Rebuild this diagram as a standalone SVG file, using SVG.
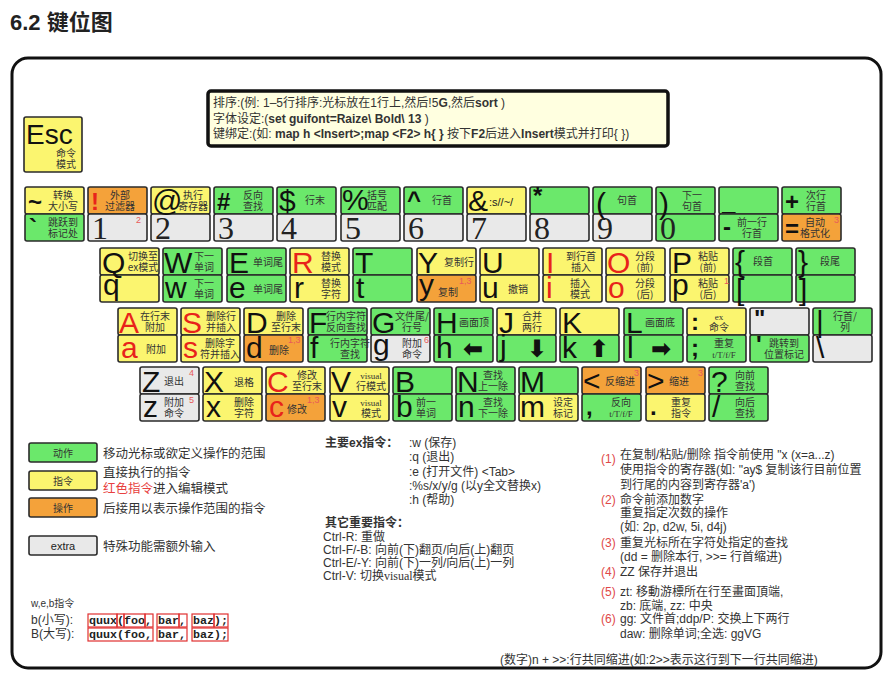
<svg xmlns="http://www.w3.org/2000/svg" width="884" height="675" viewBox="0 0 884 675">
<style>
text{font-family:"Liberation Sans","Noto Sans CJK SC",sans-serif}
.k{stroke:#2b2b2b;stroke-width:1.6}
.G{fill:#6be86b}.Y{fill:#fbf56f}.O{fill:#f4a23a}.X{fill:#e9e9e9}
.c{font-size:30px;fill:#111}
.n{font-family:"Liberation Serif",serif;font-size:32px;fill:#222}
.s{font-size:24px;font-weight:bold;fill:#111}
.d{font-family:"Noto Sans CJK SC",sans-serif;font-size:10px;fill:#333;text-anchor:middle}
.t{font-family:"Liberation Serif","Noto Sans CJK SC",serif;font-size:9px}
.u{font-size:9px;fill:#e85a5a}
.red{fill:#e8231b}
.ar{font-family:"DejaVu Sans",sans-serif;font-weight:bold;font-size:24px;fill:#111;text-anchor:middle}
.lg{font-family:"Noto Sans CJK SC",sans-serif;font-size:12.5px;fill:#333}
.nt{font-family:"Liberation Sans","Noto Sans CJK SC",sans-serif;font-size:12px;fill:#333}
.rn{font-family:"Liberation Sans",sans-serif;font-size:12px;fill:#e04848}
.mono{font-family:"Liberation Mono",monospace;font-weight:bold;font-size:11.7px;fill:#222}
.rb{fill:none;stroke:#e03030;stroke-width:1.2}
</style>
<rect width="884" height="675" fill="#fff"/>
<text x="10" y="30" font-size="22" font-weight="bold" fill="#222">6.2 键位图</text>
<rect x="12" y="58" width="869" height="610" rx="16" fill="#fff" stroke="#111" stroke-width="3"/>

<g id="info">
<rect x="208" y="91" width="460" height="55" rx="3" fill="#ffffe0" stroke="#111" stroke-width="3.5"/>
<text class="nt" x="213" y="107">排序:(例: 1–5行排序:光标放在1行上,然后!5<tspan font-weight="bold">G</tspan>,然后<tspan font-weight="bold">sort</tspan> )</text>
<text class="nt" x="213" y="123">字体设定:(<tspan font-weight="bold">set guifont=Raize\ Bold\ 13</tspan> )</text>
<text class="nt" x="213" y="138">键绑定:(如:  <tspan font-weight="bold">map h &lt;Insert&gt;;map &lt;F2&gt; h{ }</tspan> 按下<tspan font-weight="bold">F2</tspan>后进入<tspan font-weight="bold">Insert</tspan>模式并打印{ })</text>
</g>

<g id="key-esc">
<rect class="k Y" x="24" y="117" width="58" height="55" rx="2"/>
<text x="26" y="144" font-size="28" fill="#111">Esc</text>
<text class="d" x="66" y="157">命令<tspan x="66" dy="11">模式</tspan></text>
</g>

<!-- Row 1 -->
<g id="key-tilde">
<rect class="k Y" x="25" y="187" width="59" height="27" rx="2"/><rect class="k G" x="25" y="214" width="59" height="27" rx="2"/>
<text class="s" x="28" y="210">~</text><text class="d" x="63" y="199">转换<tspan x="63" dy="11">大小写</tspan></text>
<text class="s" x="29" y="236">`</text><text class="d" x="63" y="226">跳跃到<tspan x="63" dy="11">标记处</tspan></text>
</g>
<g id="key-1">
<rect class="k O" x="88" y="187" width="59" height="27" rx="2"/><rect class="k X" x="88" y="214" width="59" height="27" rx="2"/>
<text class="s red" x="91" y="210">!</text><text class="d" x="120" y="199">外部<tspan x="120" dy="11">过滤器</tspan></text>
<text class="n" x="92" y="239">1</text><text class="u" x="136" y="223">2</text>
</g>
<g id="key-2">
<rect class="k Y" x="151" y="187" width="59" height="27" rx="2"/><rect class="k X" x="151" y="214" width="59" height="27" rx="2"/>
<text class="c" x="152" y="211">@</text><text class="d" x="193" y="199">执行<tspan x="193" dy="11">寄存器</tspan></text>
<text class="n" x="155" y="239">2</text>
</g>
<g id="key-3">
<rect class="k G" x="214" y="187" width="59" height="27" rx="2"/><rect class="k X" x="214" y="214" width="59" height="27" rx="2"/>
<text class="s" x="217" y="210">#</text><text class="d" x="253" y="199">反向<tspan x="253" dy="11">查找</tspan></text>
<text class="n" x="218" y="239">3</text>
</g>
<g id="key-4">
<rect class="k G" x="277" y="187" width="59" height="27" rx="2"/><rect class="k X" x="277" y="214" width="59" height="27" rx="2"/>
<text class="c" x="279" y="211">$</text><text class="d" x="315" y="204">行末</text>
<text class="n" x="281" y="239">4</text>
</g>
<g id="key-5">
<rect class="k G" x="341" y="187" width="59" height="27" rx="2"/><rect class="k X" x="341" y="214" width="59" height="27" rx="2"/>
<text class="c" x="342" y="210">%</text><text class="d" x="377" y="199">括号<tspan x="377" dy="11">匹配</tspan></text>
<text class="n" x="345" y="239">5</text>
</g>
<g id="key-6">
<rect class="k G" x="404" y="187" width="59" height="27" rx="2"/><rect class="k X" x="404" y="214" width="59" height="27" rx="2"/>
<text class="s" x="407" y="208">^</text><text class="d" x="442" y="204">行首</text>
<text class="n" x="408" y="239">6</text>
</g>
<g id="key-7">
<rect class="k Y" x="467" y="187" width="59" height="27" rx="2"/><rect class="k X" x="467" y="214" width="59" height="27" rx="2"/>
<text class="c" x="468" y="211">&amp;</text><text x="489" y="206" font-size="11" fill="#222">:s//~/</text>
<text class="n" x="471" y="239">7</text>
</g>
<g id="key-8">
<rect class="k G" x="530" y="187" width="59" height="27" rx="2"/><rect class="k X" x="530" y="214" width="59" height="27" rx="2"/>
<text class="s" x="533" y="204" font-size="20">*</text>
<text class="n" x="534" y="239">8</text>
</g>
<g id="key-9">
<rect class="k G" x="593" y="187" width="59" height="27" rx="2"/><rect class="k X" x="593" y="214" width="59" height="27" rx="2"/>
<text class="c" x="596" y="214" font-size="34">(</text><text class="d" x="627" y="204">句首</text>
<text class="n" x="597" y="239">9</text>
</g>
<g id="key-0">
<rect class="k G" x="656" y="187" width="59" height="27" rx="2"/><rect class="k G" x="656" y="214" width="59" height="27" rx="2"/>
<text class="c" x="659" y="214" font-size="34">)</text><text class="d" x="692" y="199">下一<tspan x="692" dy="11">句首</tspan></text>
<text class="n" x="660" y="239">0</text>
</g>
<g id="key-minus">
<rect class="k G" x="719" y="187" width="59" height="27" rx="2"/><rect class="k G" x="719" y="214" width="59" height="27" rx="2"/>
<text class="s" x="722" y="210">_</text>
<text class="s" x="723" y="235">-</text><text class="d" x="752" y="226">前一行<tspan x="752" dy="11">行首</tspan></text>
</g>
<g id="key-equal">
<rect class="k G" x="782" y="187" width="59" height="27" rx="2"/><rect class="k O" x="782" y="214" width="59" height="27" rx="2"/>
<text class="s" x="785" y="210" font-size="26">+</text><text class="d" x="816" y="199">次行<tspan x="816" dy="11">行首</tspan></text>
<text class="s" x="785" y="237" font-size="26">=</text><text class="d" x="815" y="226">自动<tspan x="815" dy="11">格式化</tspan></text><text class="u" x="834" y="223">3</text>
</g>

<!-- Row 2 -->
<g id="key-q">
<rect class="k Y" x="100" y="248" width="59" height="27" rx="2"/><rect class="k Y" x="100" y="275" width="59" height="27" rx="2"/>
<text class="c" x="102" y="273">Q</text><text class="d" x="143" y="260">切换至<tspan x="143" dy="11">ex模式</tspan></text>
<text class="c" x="103" y="295">q</text>
</g>
<g id="key-w">
<rect class="k G" x="163" y="248" width="59" height="27" rx="2"/><rect class="k G" x="163" y="275" width="59" height="27" rx="2"/>
<text class="c" x="164" y="273">W</text><text class="d" x="204" y="260">下一<tspan x="204" dy="11">单词</tspan></text>
<text class="c" x="165" y="298">w</text><text class="d" x="204" y="287">下一<tspan x="204" dy="11">单词</tspan></text>
</g>
<g id="key-e">
<rect class="k G" x="227" y="248" width="59" height="27" rx="2"/><rect class="k G" x="227" y="275" width="59" height="27" rx="2"/>
<text class="c" x="229" y="273">E</text><text class="d" x="268" y="266">单词尾</text>
<text class="c" x="229" y="298">e</text><text class="d" x="268" y="293">单词尾</text>
</g>
<g id="key-r">
<rect class="k Y" x="290" y="248" width="59" height="27" rx="2"/><rect class="k Y" x="290" y="275" width="59" height="27" rx="2"/>
<text class="c red" x="292" y="273">R</text><text class="d" x="331" y="260">替换<tspan x="331" dy="11">模式</tspan></text>
<text class="c" x="294" y="298">r</text><text class="d" x="331" y="287">替换<tspan x="331" dy="11">字符</tspan></text>
</g>
<g id="key-t">
<rect class="k G" x="353" y="248" width="59" height="27" rx="2"/><rect class="k G" x="353" y="275" width="59" height="27" rx="2"/>
<text class="c" x="355" y="273">T</text>
<text class="c" x="356" y="298">t</text>
</g>
<g id="key-y">
<rect class="k Y" x="417" y="248" width="59" height="27" rx="2"/><rect class="k O" x="417" y="275" width="59" height="27" rx="2"/>
<text class="c" x="418" y="273">Y</text><text class="d" x="459" y="266">复制行</text>
<text class="c" x="419" y="295">y</text><text class="d" x="448" y="296">复制</text><text class="u" x="459" y="284">1,3</text>
</g>
<g id="key-u">
<rect class="k Y" x="480" y="248" width="59" height="27" rx="2"/><rect class="k Y" x="480" y="275" width="59" height="27" rx="2"/>
<text class="c" x="482" y="273">U</text>
<text class="c" x="482" y="298">u</text><text class="d" x="518" y="293">撤销</text>
</g>
<g id="key-i">
<rect class="k Y" x="543" y="248" width="59" height="27" rx="2"/><rect class="k Y" x="543" y="275" width="59" height="27" rx="2"/>
<text class="c red" x="546" y="273">I</text><text class="d" x="581" y="260">到行首<tspan x="581" dy="11">插入</tspan></text>
<text class="c red" x="546" y="298">i</text><text class="d" x="580" y="287">插入<tspan x="580" dy="11">模式</tspan></text>
</g>
<g id="key-o">
<rect class="k Y" x="606" y="248" width="59" height="27" rx="2"/><rect class="k Y" x="606" y="275" width="59" height="27" rx="2"/>
<text class="c red" x="607" y="273">O</text><text class="d" x="645" y="260">分段<tspan x="645" dy="11">(前)</tspan></text>
<text class="c red" x="608" y="298">o</text><text class="d" x="645" y="287">分段<tspan x="645" dy="11">(后)</tspan></text>
</g>
<g id="key-p">
<rect class="k Y" x="670" y="248" width="59" height="27" rx="2"/><rect class="k Y" x="670" y="275" width="59" height="27" rx="2"/>
<text class="c" x="672" y="273">P</text><text class="d" x="708" y="260">粘贴<tspan x="708" dy="11">(前)</tspan></text>
<text class="c" x="672" y="295">p</text><text class="d" x="708" y="287">粘贴<tspan x="708" dy="11">(后)</tspan></text><text class="u" x="724" y="284">1</text>
</g>
<g id="key-lbrace">
<rect class="k G" x="733" y="248" width="59" height="27" rx="2"/><rect class="k G" x="733" y="275" width="59" height="27" rx="2"/>
<text class="c" x="735" y="272">{</text><text class="d" x="763" y="265">段首</text>
<text class="c" x="736" y="300">[</text>
</g>
<g id="key-rbrace">
<rect class="k G" x="796" y="248" width="59" height="27" rx="2"/><rect class="k G" x="796" y="275" width="59" height="27" rx="2"/>
<text class="c" x="798" y="272">}</text><text class="d" x="830" y="265">段尾</text>
<text class="c" x="799" y="300">]</text>
</g>

<!-- Row 3 -->
<g id="key-a">
<rect class="k Y" x="118" y="308" width="59" height="27" rx="2"/><rect class="k Y" x="118" y="335" width="59" height="27" rx="2"/>
<text class="c red" x="119" y="333">A</text><text class="d" x="155" y="320">在行末<tspan x="155" dy="11">附加</tspan></text>
<text class="c red" x="121" y="358">a</text><text class="d" x="156" y="353">附加</text>
</g>
<g id="key-s">
<rect class="k Y" x="181" y="308" width="59" height="27" rx="2"/><rect class="k Y" x="181" y="335" width="59" height="27" rx="2"/>
<text class="c red" x="182" y="333">S</text><text class="d" x="221" y="320">删除行<tspan x="221" dy="11">并插入</tspan></text>
<text class="c red" x="183" y="358">s</text><text class="d" x="220" y="347">删除字<tspan x="220" dy="11">符并插入</tspan></text>
</g>
<g id="key-d">
<rect class="k Y" x="244" y="308" width="59" height="27" rx="2"/><rect class="k O" x="244" y="335" width="59" height="27" rx="2"/>
<text class="c" x="246" y="333">D</text><text class="d" x="286" y="320">删除<tspan x="286" dy="11">至行末</tspan></text>
<text class="c" x="246" y="358">d</text><text class="d" x="279" y="354">删除</text><text class="u" x="288" y="343">1,3</text>
</g>
<g id="key-f">
<rect class="k G" x="308" y="308" width="59" height="27" rx="2"/><rect class="k G" x="308" y="335" width="59" height="27" rx="2"/>
<text class="c" x="309" y="333">F</text><text class="d" x="346" y="320">行内字符<tspan x="346" dy="11">反向查找</tspan></text>
<text class="c" x="310" y="358">f</text><text class="d" x="350" y="347">行内字符<tspan x="350" dy="11">查找</tspan></text>
</g>
<g id="key-g">
<rect class="k G" x="371" y="308" width="59" height="27" rx="2"/><rect class="k X" x="371" y="335" width="59" height="27" rx="2"/>
<text class="c" x="372" y="333">G</text><text class="d" x="412" y="320">文件尾/<tspan x="412" dy="11">行号</tspan></text>
<text class="c" x="373" y="355">g</text><text class="d" x="412" y="347">附加<tspan x="412" dy="11">命令</tspan></text><text class="u" x="424" y="343">6</text>
</g>
<g id="key-h">
<rect class="k G" x="434" y="308" width="59" height="27" rx="2"/><rect class="k G" x="434" y="335" width="59" height="27" rx="2"/>
<text class="c" x="436" y="333">H</text><text class="d" x="474" y="326">画面顶</text>
<text class="c" x="436" y="358">h</text><text class="ar" x="473" y="357">⬅</text>
</g>
<g id="key-j">
<rect class="k Y" x="497" y="308" width="59" height="27" rx="2"/><rect class="k G" x="497" y="335" width="59" height="27" rx="2"/>
<text class="c" x="499" y="333">J</text><text class="d" x="532" y="320">合并<tspan x="532" dy="11">两行</tspan></text>
<text class="c" x="500" y="356">j</text><text class="ar" x="537" y="357">⬇</text>
</g>
<g id="key-k">
<rect class="k Y" x="560" y="308" width="59" height="27" rx="2"/><rect class="k G" x="560" y="335" width="59" height="27" rx="2"/>
<text class="c" x="562" y="333">K</text>
<text class="c" x="562" y="358">k</text><text class="ar" x="599" y="357">⬆</text>
</g>
<g id="key-l">
<rect class="k G" x="624" y="308" width="59" height="27" rx="2"/><rect class="k G" x="624" y="335" width="59" height="27" rx="2"/>
<text class="c" x="626" y="333">L</text><text class="d" x="660" y="326">画面底</text>
<text class="c" x="627" y="358">l</text><text class="ar" x="661" y="357">➡</text>
</g>
<g id="key-colon">
<rect class="k Y" x="687" y="308" width="59" height="27" rx="2"/><rect class="k G" x="687" y="335" width="59" height="27" rx="2"/>
<text class="s" x="691" y="330">:</text><text class="d" x="719" y="320"><tspan class="t">ex</tspan><tspan x="719" dy="11">命令</tspan></text>
<text class="s" x="691" y="356">;</text><text class="d" x="724" y="347">重复<tspan class="t" x="724" dy="11">t/T/f/F</tspan></text>
</g>
<g id="key-quote">
<rect class="k X" x="750" y="308" width="59" height="27" rx="2"/><rect class="k G" x="750" y="335" width="59" height="27" rx="2"/>
<text class="s" x="754" y="327">"</text>
<text class="s" x="756" y="353">'</text><text class="d" x="784" y="347">跳转到<tspan x="784" dy="11">位置标记</tspan></text>
</g>
<g id="key-pipe">
<rect class="k G" x="813" y="308" width="59" height="27" rx="2"/><rect class="k X" x="813" y="335" width="59" height="27" rx="2"/>
<text class="c" x="816" y="332">|</text><text class="d" x="845" y="320">行首/<tspan x="845" dy="11">列</tspan></text>
<text class="c" x="816" y="358">\</text>
</g>

<!-- Row 4 -->
<g id="key-z">
<rect class="k X" x="140" y="367" width="59" height="27" rx="2"/><rect class="k X" x="140" y="394" width="59" height="27" rx="2"/>
<text class="c" x="142" y="392">Z</text><text class="d" x="174" y="385">退出</text><text class="u" x="189" y="376">4</text>
<text class="c" x="143" y="417">z</text><text class="d" x="174" y="406">附加<tspan x="174" dy="11">命令</tspan></text><text class="u" x="189" y="403">5</text>
</g>
<g id="key-x">
<rect class="k Y" x="203" y="367" width="59" height="27" rx="2"/><rect class="k Y" x="203" y="394" width="59" height="27" rx="2"/>
<text class="c" x="204" y="392">X</text><text class="d" x="244" y="386">退格</text>
<text class="c" x="206" y="417">x</text><text class="d" x="244" y="406">删除<tspan x="244" dy="11">字符</tspan></text>
</g>
<g id="key-c">
<rect class="k Y" x="266" y="367" width="59" height="27" rx="2"/><rect class="k O" x="266" y="394" width="59" height="27" rx="2"/>
<text class="c red" x="267" y="392">C</text><text class="d" x="307" y="379">修改<tspan x="307" dy="11">至行末</tspan></text>
<text class="c red" x="269" y="417">c</text><text class="d" x="297" y="413">修改</text><text class="u" x="307" y="403">1,3</text>
</g>
<g id="key-v">
<rect class="k Y" x="330" y="367" width="59" height="27" rx="2"/><rect class="k Y" x="330" y="394" width="59" height="27" rx="2"/>
<text class="c" x="331" y="392">V</text><text class="d" x="371" y="379"><tspan class="t">visual</tspan><tspan x="371" dy="11">行模式</tspan></text>
<text class="c" x="332" y="417">v</text><text class="d" x="371" y="406"><tspan class="t">visual</tspan><tspan x="371" dy="11">模式</tspan></text>
</g>
<g id="key-b">
<rect class="k G" x="393" y="367" width="59" height="27" rx="2"/><rect class="k G" x="393" y="394" width="59" height="27" rx="2"/>
<text class="c" x="395" y="392">B</text>
<text class="c" x="396" y="417">b</text><text class="d" x="426" y="406">前一<tspan x="426" dy="11">单词</tspan></text>
</g>
<g id="key-n">
<rect class="k G" x="456" y="367" width="59" height="27" rx="2"/><rect class="k G" x="456" y="394" width="59" height="27" rx="2"/>
<text class="c" x="457" y="392">N</text><text class="d" x="493" y="379">查找<tspan x="493" dy="11">上一除</tspan></text>
<text class="c" x="458" y="417">n</text><text class="d" x="493" y="406">查找<tspan x="493" dy="11">下一除</tspan></text>
</g>
<g id="key-m">
<rect class="k G" x="519" y="367" width="59" height="27" rx="2"/><rect class="k Y" x="519" y="394" width="59" height="27" rx="2"/>
<text class="c" x="520" y="392">M</text>
<text class="c" x="520" y="417">m</text><text class="d" x="563" y="406">设定<tspan x="563" dy="11">标记</tspan></text>
</g>
<g id="key-lt">
<rect class="k O" x="582" y="367" width="59" height="27" rx="2"/><rect class="k G" x="582" y="394" width="59" height="27" rx="2"/>
<text class="c" x="583" y="391">&lt;</text><text class="d" x="620" y="385">反缩进</text><text class="u" x="634" y="376">3</text>
<text class="s" x="586" y="415">,</text><text class="d" x="621" y="406">反向<tspan class="t" x="621" dy="11">t/T/f/F</tspan></text>
</g>
<g id="key-gt">
<rect class="k O" x="646" y="367" width="59" height="27" rx="2"/><rect class="k Y" x="646" y="394" width="59" height="27" rx="2"/>
<text class="c" x="647" y="391">&gt;</text><text class="d" x="679" y="385">缩进</text><text class="u" x="698" y="376">3</text>
<text class="s" x="650" y="415">.</text><text class="d" x="681" y="406">重复<tspan x="681" dy="11">指令</tspan></text>
</g>
<g id="key-slash">
<rect class="k G" x="709" y="367" width="59" height="27" rx="2"/><rect class="k G" x="709" y="394" width="59" height="27" rx="2"/>
<text class="c" x="711" y="392">?</text><text class="d" x="745" y="379">向前<tspan x="745" dy="11">查找</tspan></text>
<text class="c" x="712" y="417">/</text><text class="d" x="745" y="406">向后<tspan x="745" dy="11">查找</tspan></text>
</g>

<!-- Legend -->
<g id="legend">
<rect class="k G" x="29" y="443" width="68" height="19" rx="2"/><text class="d" x="63" y="457" font-size="11">动作</text>
<text class="lg" x="103" y="458">移动光标或欲定义操作的范围</text>
<rect class="k Y" x="29" y="471" width="68" height="19" rx="2"/><text class="d" x="63" y="485" font-size="11">指令</text>
<text class="lg" x="103" y="477">直接执行的指令</text>
<text class="lg" x="103" y="493"><tspan fill="#e84040">红色指令</tspan>进入编辑模式</text>
<rect class="k O" x="29" y="498" width="68" height="19" rx="2"/><text class="d" x="63" y="512" font-size="11">操作</text>
<text class="lg" x="103" y="513">后接用以表示操作范围的指令</text>
<rect class="k X" x="29" y="536" width="68" height="19" rx="2"/><text x="63" y="550" font-size="11" fill="#222" text-anchor="middle">extra</text>
<text class="lg" x="103" y="551">特殊功能需额外输入</text>
</g>

<g id="web">
<text x="31" y="607" font-size="10" fill="#333" font-family="Liberation Serif, Noto Sans CJK SC, serif">w,e,b指令</text>
<text class="nt" x="31" y="624" font-size="11">b(小写):</text>
<text class="nt" x="31" y="638" font-size="11">B(大写):</text>
<text class="mono" x="89" y="624">quux(foo,</text><text class="mono" x="158" y="624">bar,</text><text class="mono" x="193" y="624">baz);</text>
<text class="mono" x="89" y="638">quux(foo,</text><text class="mono" x="158" y="638">bar,</text><text class="mono" x="193" y="638">baz);</text>
<rect class="rb" x="88" y="614" width="29" height="13"/><rect class="rb" x="117" y="614" width="7" height="13"/><rect class="rb" x="124" y="614" width="21" height="13"/><rect class="rb" x="145" y="614" width="8" height="13"/>
<rect class="rb" x="157" y="614" width="22" height="13"/><rect class="rb" x="179" y="614" width="8" height="13"/>
<rect class="rb" x="192" y="614" width="22" height="13"/><rect class="rb" x="214" y="614" width="14" height="13"/>
<rect class="rb" x="88" y="628" width="65" height="13"/><rect class="rb" x="157" y="628" width="30" height="13"/><rect class="rb" x="192" y="628" width="36" height="13"/>
</g>

<g id="ex-commands">
<text class="nt" x="325" y="447" font-weight="bold">主要ex指令：</text>
<text class="nt" x="409" y="447">:w (保存)</text>
<text class="nt" x="409" y="461">:q (退出)</text>
<text class="nt" x="409" y="476">:e (打开文件) &lt;Tab&gt;</text>
<text class="nt" x="409" y="490">:%s/x/y/g (以y全文替换x)</text>
<text class="nt" x="409" y="504">:h (帮助)</text>
<text class="nt" x="325" y="527" font-weight="bold">其它重要指令：</text>
<text class="nt" x="323" y="541">Ctrl-R: 重做</text>
<text class="nt" x="323" y="554">Ctrl-F/-B: 向前(下)翻页/向后(上)翻页</text>
<text class="nt" x="323" y="567">Ctrl-E/-Y: 向前(下)一列/向后(上)一列</text>
<text class="nt" x="323" y="580">Ctrl-V: 切换<tspan font-family="Liberation Serif, serif">visual</tspan>模式</text>
</g>

<g id="notes">
<text class="rn" x="601" y="463">(1)</text>
<text class="nt" x="620" y="459">在复制/粘贴/删除  指令前使用  "x (x=a...z)</text>
<text class="nt" x="620" y="474">使用指令的寄存器(如: "ay$ 复制该行目前位置</text>
<text class="nt" x="620" y="489">到行尾的内容到寄存器'a')</text>
<text class="rn" x="601" y="504">(2)</text>
<text class="nt" x="620" y="504">命令前添加数字</text>
<text class="nt" x="620" y="517">重复指定次数的操作</text>
<text class="nt" x="620" y="531">(如: 2p, d2w, 5i, d4j)</text>
<text class="rn" x="601" y="547">(3)</text>
<text class="nt" x="620" y="547">重复光标所在字符处指定的查找</text>
<text class="nt" x="620" y="561">(dd = 删除本行, &gt;&gt;= 行首缩进)</text>
<text class="rn" x="601" y="576">(4)</text>
<text class="nt" x="620" y="576">ZZ  保存并退出</text>
<text class="rn" x="601" y="596">(5)</text>
<text class="nt" x="620" y="596">zt: 移動游標所在行至畫面頂端,</text>
<text class="nt" x="620" y="610">zb: 底端, zz: 中央</text>
<text class="rn" x="601" y="623">(6)</text>
<text class="nt" x="620" y="623">gg: 文件首;ddp/P: 交换上下两行</text>
<text class="nt" x="620" y="638">daw: 删除单词;全选: ggVG</text>
<text class="nt" x="500" y="664" font-size="11.8">(数字)n + &gt;&gt;:行共同缩进(如:2&gt;&gt;表示这行到下一行共同缩进)</text>
</g>
</svg>
